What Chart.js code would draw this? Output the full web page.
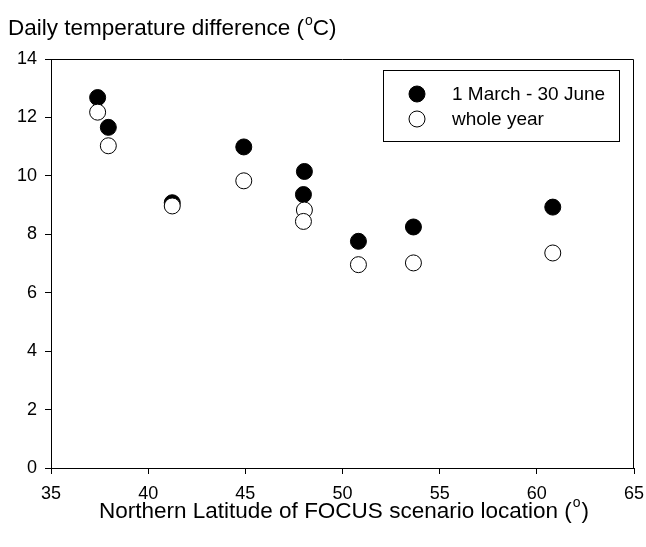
<!DOCTYPE html>
<html>
<head>
<meta charset="utf-8">
<script src="https://cdn.jsdelivr.net/npm/chart.js@4/dist/chart.umd.min.js"></script>
<style>
  html, body { margin: 0; padding: 0; background: #fff; }
  #wrap { width: 646px; height: 547px; }
</style>
</head>
<body>
<div id="wrap"><canvas id="chart" width="646" height="547"></canvas></div>
<script>
// latitude of each FOCUS scenario location (deg N)
const latitude = [37.40, 37.95, 41.24, 44.92, 48.04, 47.99, 50.82, 53.65, 60.82];
// daily temperature difference (deg C)
const springDiff = [12.68, 11.66, 9.08, 10.99, 10.15, 9.36, 7.76, 8.25, 8.93];
const yearDiff = [12.18, 11.03, 8.97, 9.83, 8.83, 8.44, 6.96, 7.02, 7.36];
const seriesNames = ['1 March - 30 June', 'whole year'];
const xTicks = [35, 40, 45, 50, 55, 60, 65];
const yTicks = [0, 2, 4, 6, 8, 10, 12, 14];

const FONT = 'Arial, "Liberation Sans", sans-serif';

const toPoints = (xs, ys) => xs.map((x, i) => ({ x: x, y: ys[i] }));

// draws the frame, the axis titles (with superscript o) and the legend box
const decorations = {
  id: 'decorations',
  afterDraw(chart) {
    const { ctx, chartArea: a } = chart;
    ctx.save();
    ctx.strokeStyle = '#000';
    ctx.lineWidth = 1;
    ctx.beginPath();
    ctx.moveTo(Math.round(a.left) + 0.5, Math.round(a.top) + 0.5);
    ctx.lineTo(Math.round(a.right) - 0.5, Math.round(a.top) + 0.5);
    ctx.lineTo(Math.round(a.right) - 0.5, Math.round(a.bottom));
    ctx.stroke();

    ctx.fillStyle = '#000';
    ctx.textBaseline = 'alphabetic';
    ctx.textAlign = 'left';

    // y title
    ctx.font = '22.5px ' + FONT;
    let t1 = 'Daily temperature difference (';
    ctx.fillText(t1, 8, 35);
    let x = 8 + ctx.measureText(t1).width;
    ctx.font = '14px ' + FONT;
    ctx.fillText('o', x + 1, 25);
    x += ctx.measureText('o').width + 1;
    ctx.font = '22.5px ' + FONT;
    ctx.fillText('C)', x, 35);

    // x title
    let t2 = 'Northern Latitude of FOCUS scenario location (';
    ctx.font = '22.5px ' + FONT;
    const w1 = ctx.measureText(t2).width;
    ctx.font = '14px ' + FONT;
    const wo = ctx.measureText('o').width;
    ctx.font = '22.5px ' + FONT;
    const w2 = ctx.measureText(')').width;
    let xs = 344 - (w1 + wo + 2 + w2) / 2;
    ctx.fillText(t2, xs, 518);
    xs += w1;
    ctx.font = '14px ' + FONT;
    ctx.fillText('o', xs + 1, 507);
    xs += wo + 2;
    ctx.font = '22.5px ' + FONT;
    ctx.fillText(')', xs, 518);

    // legend
    ctx.strokeRect(383.5, 70.5, 236, 71);
    const rows = [94, 119];
    chart.data.datasets.forEach((ds, i) => {
      ctx.beginPath();
      ctx.arc(417, rows[i], 8, 0, Math.PI * 2);
      ctx.fillStyle = ds.backgroundColor;
      ctx.fill();
      ctx.strokeStyle = ds.borderColor;
      ctx.stroke();
      ctx.fillStyle = '#000';
      ctx.font = '19px ' + FONT;
      ctx.textBaseline = 'middle';
      ctx.fillText(ds.label, 452, rows[i] + 1);
    });
    ctx.restore();
  }
};

const axisStyle = {
  border: { display: true, color: '#000', width: 1 },
  grid: { drawOnChartArea: false, drawTicks: true, tickLength: 6, color: '#000' },
};

new Chart(document.getElementById('chart').getContext('2d'), {
  type: 'scatter',
  data: {
    datasets: [
      {
        label: seriesNames[0],
        data: toPoints(latitude, springDiff),
        backgroundColor: '#000',
        borderColor: '#000',
        borderWidth: 1,
        pointRadius: 8,
        order: 2
      },
      {
        label: seriesNames[1],
        data: toPoints(latitude, yearDiff),
        backgroundColor: '#fff',
        borderColor: '#000',
        borderWidth: 1,
        pointRadius: 8,
        order: 1
      }
    ]
  },
  options: {
    responsive: false,
    animation: false,
    devicePixelRatio: 1,
    layout: { padding: { left: 0, right: 12, top: 59, bottom: 0 } },
    plugins: {
      legend: { display: false },
      tooltip: { enabled: false }
    },
    scales: {
      x: {
        type: 'linear',
        min: 35,
        max: 65,
        ...axisStyle,
        afterBuildTicks: (scale) => { scale.ticks = xTicks.map((v) => ({ value: v })); },
        afterFit: (scale) => {
          scale.height = 79;
          scale.paddingLeft = 0;
          scale.paddingRight = 0;
        },
        ticks: { color: '#000', font: { family: FONT, size: 18 }, padding: 9, maxRotation: 0 }
      },
      y: {
        type: 'linear',
        min: 0,
        max: 14,
        ...axisStyle,
        afterBuildTicks: (scale) => { scale.ticks = yTicks.map((v) => ({ value: v })); },
        afterFit: (scale) => {
          scale.width = 51;
          scale.paddingTop = 0;
          scale.paddingBottom = 0;
        },
        ticks: { color: '#000', font: { family: FONT, size: 18 }, padding: 8 }
      }
    }
  },
  plugins: [decorations]
});
</script>
</body>
</html>
